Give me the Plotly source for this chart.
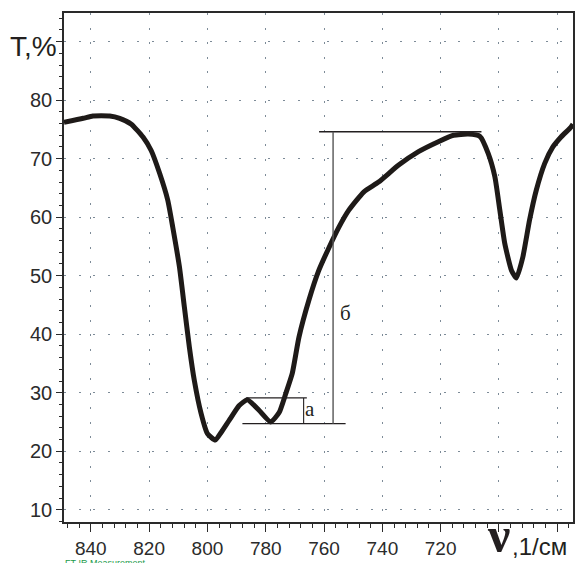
import plotly.graph_objects as go

# Wavenumber (1/cm) and transmittance (%)
wavenumber = [849.2, 842.6, 839.3, 833.5, 830.1, 826.1, 822.1, 819.3, 816.4, 813.6,
              811.9, 809.6, 807.9, 806.2, 804.5, 802.2, 800.0, 797.3, 795.3, 792.5,
              789.1, 786.3, 782.3, 778.3, 775.4, 773.1, 770.9, 768.6, 765.2, 761.8,
              758.4, 754.9, 751.5, 746.4, 741.3, 734.4, 727.6, 720.8, 715.6, 710.5,
              706.5, 703.7, 701.4, 699.7, 698.0, 695.7, 694.0, 691.8, 689.5, 687.2,
              684.3, 681.5, 678.7, 675.3, 674.6]
transmittance = [76.2, 76.9, 77.3, 77.3, 76.9, 75.9, 73.7, 71.4, 67.5, 62.9,
                 58.3, 51.5, 44.6, 37.8, 32.1, 26.5, 23.0, 21.9, 23.2, 25.3,
                 27.8, 28.8, 27.0, 25.0, 26.6, 29.9, 33.3, 39.5, 45.8, 50.9,
                 54.7, 58.3, 61.2, 64.3, 66.0, 68.9, 71.2, 72.9, 74.0, 74.2,
                 73.8, 70.9, 66.9, 61.2, 55.5, 50.9, 49.6, 53.2, 59.5, 64.6,
                 69.2, 72.0, 73.7, 75.4, 75.9]

# measurement construction ("a" and "б" heights)
base_level = 24.7      # local minimum ~778
a_level = 29.1         # local maximum ~786
b_level = 74.6         # maximum ~710
base_x = [788.0, 752.6]
a_x = [786.7, 765.9]
a_vx = 767.0
b_x = [761.7, 706.0]
b_vx = 756.9
label_a = ["а", 764.7, 27.2]
label_b = ["б", 752.5, 43.7]

x_ticks = [840, 820, 800, 780, 760, 740, 720, 700, 680]
x_labels = ["840", "820", "800", "780", "760", "740", "720", "", ""]
y_ticks = [10, 20, 30, 40, 50, 60, 70, 80, 90]
y_labels = ["10", "20", "30", "40", "50", "60", "70", "80", ""]

W, H = 577, 563
ML, MR, MT, MB = 64, 2, 13, 41

fig = go.Figure()
fig.add_trace(go.Scatter(
    x=wavenumber, y=transmittance, mode="lines",
    line=dict(color="#1e1a18", width=5, shape="spline", smoothing=0.5),
    hoverinfo="skip", showlegend=False))

line_col = "#231f20"
shapes = [
    dict(type="line", xref="x", yref="y", x0=base_x[0], x1=base_x[1], y0=base_level, y1=base_level,
         line=dict(color=line_col, width=1.3)),
    dict(type="line", xref="x", yref="y", x0=a_x[0], x1=a_x[1], y0=a_level, y1=a_level,
         line=dict(color=line_col, width=1.3)),
    dict(type="line", xref="x", yref="y", x0=a_vx, x1=a_vx, y0=base_level, y1=a_level,
         line=dict(color=line_col, width=1.1)),
    dict(type="line", xref="x", yref="y", x0=b_x[0], x1=b_x[1], y0=b_level, y1=b_level,
         line=dict(color=line_col, width=1.3)),
    dict(type="line", xref="x", yref="y", x0=b_vx, x1=b_vx, y0=base_level, y1=b_level,
         line=dict(color="#555555", width=1.4)),
]
fig.update_layout(shapes=shapes)

ann = []
for lab in (label_a, label_b):
    ann.append(dict(xref="x", yref="y", x=lab[1], y=lab[2], text=lab[0], showarrow=False,
                    font=dict(family="Liberation Serif", size=21, color="#231f20"),
                    xanchor="center", yanchor="middle"))

def px_x(px):
    return (px - ML) / (W - ML - MR)

def px_y(py):
    return (H - MB - py) / (H - MT - MB)

ann.append(dict(xref="paper", yref="paper", x=px_x(59), y=px_y(47), text="T,%",
                showarrow=False, xanchor="right", yanchor="middle",
                font=dict(family="Liberation Sans", size=28, color="#231f20")))
ann.append(dict(xref="paper", yref="paper", x=px_x(514), y=px_y(565), text="<b>ν</b>",
                showarrow=False, xanchor="right", yanchor="bottom",
                font=dict(family="Liberation Serif", size=50, color="#231f20")))
ann.append(dict(xref="paper", yref="paper", x=px_x(512), y=px_y(546), text=",1/см",
                showarrow=False, xanchor="left", yanchor="middle",
                font=dict(family="Liberation Sans", size=24, color="#231f20")))
ann.append(dict(xref="paper", yref="paper", x=px_x(63), y=px_y(556), text="FT-IR Measurement",
                showarrow=False, xanchor="left", yanchor="top",
                font=dict(family="Liberation Sans", size=9, color="#1a9a4a")))
fig.update_layout(annotations=ann)

grid_col = "#7d8b98"
fig.update_xaxes(
    range=[849.2, 674.6], tickvals=x_ticks, ticktext=x_labels,
    showgrid=True, gridcolor=grid_col, gridwidth=1, griddash="2px,12.6px",
    showline=True, linecolor="#2a2a2a", linewidth=1.5, mirror=True,
    ticks="outside", ticklen=8, tickwidth=1.3, tickcolor="#2a2a2a",
    minor=dict(dtick=4, ticks="outside", ticklen=4, tickwidth=1.2, tickcolor="#2a2a2a", showgrid=False),
    tickfont=dict(family="Liberation Sans", size=19, color="#2b2b2b"),
    zeroline=False)
fig.update_yaxes(
    range=[7.9, 94.9], tickvals=y_ticks, ticktext=y_labels,
    showgrid=True, gridcolor=grid_col, gridwidth=1, griddash="2px,12.6px",
    showline=True, linecolor="#2a2a2a", linewidth=1.5, mirror=True,
    ticks="outside", ticklen=6, tickwidth=1.3, tickcolor="#2a2a2a",
    minor=dict(dtick=2, tick0=0, ticks="outside", ticklen=3, tickwidth=1.2, tickcolor="#2a2a2a", showgrid=False),
    tickfont=dict(family="Liberation Sans", size=20, color="#2b2b2b"),
    zeroline=False)

fig.update_layout(
    width=W, height=H, margin=dict(l=ML, r=MR, t=MT, b=MB, pad=0),
    paper_bgcolor="white", plot_bgcolor="white", showlegend=False)

fig.write_html("out.html")
